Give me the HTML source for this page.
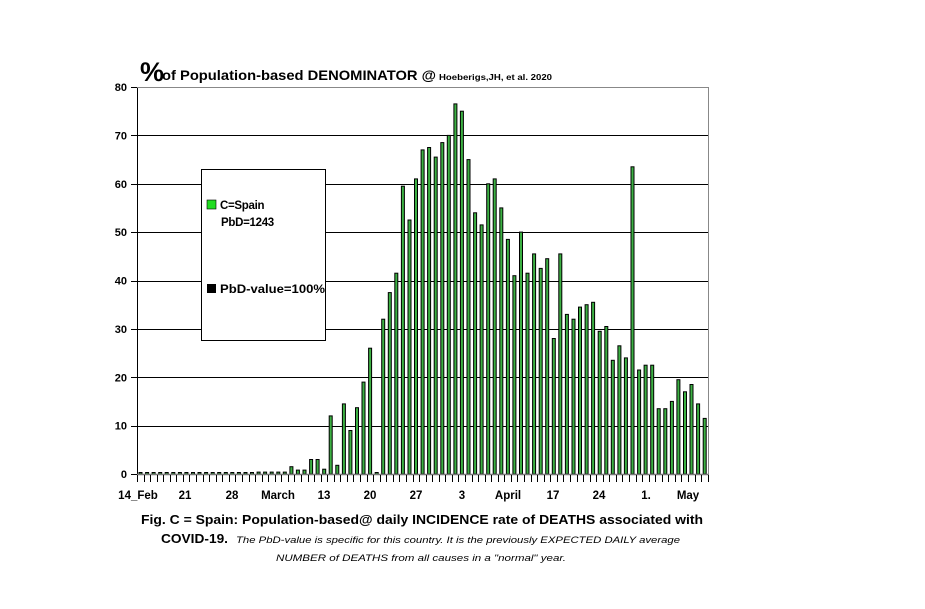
<!DOCTYPE html>
<html><head><meta charset="utf-8"><style>
body{margin:0;background:#fff;width:925px;height:609px;overflow:hidden}
svg{display:block}
text{font-family:"Liberation Sans",sans-serif;font-weight:bold}
</style></head><body>
<svg id="s" width="925" height="609" xmlns="http://www.w3.org/2000/svg">
<text x="140" y="81" font-size="27" letter-spacing="-1">%</text>
<text x="162" y="80" font-size="14" textLength="274" lengthAdjust="spacingAndGlyphs">of Population-based DENOMINATOR @</text>
<text x="439" y="80" font-size="8" textLength="113" lengthAdjust="spacingAndGlyphs">Hoeberigs,JH, et al. 2020</text>
<g id="grid" stroke="#000" stroke-width="1"></g>
<line x1="137.5" y1="87" x2="137.5" y2="475" stroke="#000"/>
<line x1="137" y1="87.5" x2="709" y2="87.5" stroke="#888"/>
<line x1="708.5" y1="87" x2="708.5" y2="475" stroke="#888"/>
<g id="bars"></g>
<line x1="137" y1="474.5" x2="709" y2="474.5" stroke="#777" stroke-width="1.5"/>
<g id="ticks" stroke="#000"></g>
<g font-size="11" text-anchor="end" id="yl"></g>
<rect x="201.5" y="169.5" width="124" height="171" fill="#fff" stroke="#000"/>
<rect x="207" y="200" width="9" height="9" fill="#22dd22" stroke="#000" stroke-width="0.6"/>
<text x="220" y="209" font-size="11.5" letter-spacing="-0.3">C=Spain</text>
<text x="221" y="226" font-size="11.5" letter-spacing="-0.3">PbD=1243</text>
<rect x="207" y="284" width="9" height="9" fill="#000"/>
<text x="220" y="293" font-size="11.5" textLength="105" lengthAdjust="spacingAndGlyphs">PbD-value=100%</text>
<g font-size="11.5" text-anchor="middle">
<text x="138" y="499">14_Feb</text><text x="185" y="499">21</text><text x="232" y="499">28</text>
<text x="278" y="499">March</text><text x="324" y="499">13</text><text x="370" y="499">20</text>
<text x="416" y="499">27</text><text x="462" y="499">3</text><text x="508" y="499">April</text>
<text x="553" y="499">17</text><text x="599" y="499">24</text><text x="646" y="499">1.</text>
<text x="688" y="499">May</text>
</g>
<text x="141" y="524" font-size="13" textLength="562" lengthAdjust="spacingAndGlyphs">Fig. C = Spain: Population-based@ daily INCIDENCE rate of DEATHS associated with</text>
<text x="161" y="543" font-size="13" textLength="67" lengthAdjust="spacingAndGlyphs">COVID-19.</text>
<text x="236" y="543" font-size="9.5" font-style="italic" style="font-weight:normal" textLength="444" lengthAdjust="spacingAndGlyphs">The PbD-value is specific for this country. It is the previously EXPECTED DAILY average</text>
<text x="276" y="561" font-size="9.5" font-style="italic" style="font-weight:normal" textLength="290" lengthAdjust="spacingAndGlyphs">NUMBER of DEATHS from all causes in a "normal" year.</text>
</svg>
<script>
var NS="http://www.w3.org/2000/svg";
function el(p,t,a){var e=document.createElementNS(NS,t);for(var k in a)e.setAttribute(k,a[k]);document.getElementById(p).appendChild(e);return e;}
for(var v=0;v<=80;v+=10){var y=474-v*4.8375;
 if(v>0&&v<80)el("grid","line",{x1:137,y1:Math.round(y)+0.5,x2:709,y2:Math.round(y)+0.5});
 el("grid","line",{x1:131,y1:Math.round(y)+0.5,x2:137,y2:Math.round(y)+0.5});
 var t=el("yl","text",{x:127,y:y+4});t.textContent=v;}
var vals=[];
for(var i=0;i<23;i++)vals.push(i>17?0.4:0.2);
vals=vals.concat([1.5,0.8,0.8,3,3,1,12,1.8,14.5,9,13.7,19,26,0.2,32,37.5,41.5,59.5,52.5,61,67,67.5,65.5,68.5,70,76.5,75,65,54,51.5,60,61,55,48.5,41,50,41.5,45.5,42.5,44.5,28,45.5,33,32,34.5,35,35.5,29.5,30.5,23.5,26.5,24,63.5,21.5,22.5,22.5,13.5,13.5,15,19.5,17,18.5,14.5,11.5]);
for(var i=0;i<vals.length;i++){var x=139+i*6.56;var h=vals[i]*4.8375;
 if(h<1.5)h=1.5;
 el("bars","rect",{x:x.toFixed(1),y:(474-h).toFixed(1),width:3,height:h.toFixed(1),fill:"#3cb043",stroke:"#000","stroke-width":1});
}
for(var i=0;i<=87;i++){var x=Math.round(137+i*6.56)+0.5;el("ticks","line",{x1:x,y1:475,x2:x,y2:482});}
</script>
</body></html>
